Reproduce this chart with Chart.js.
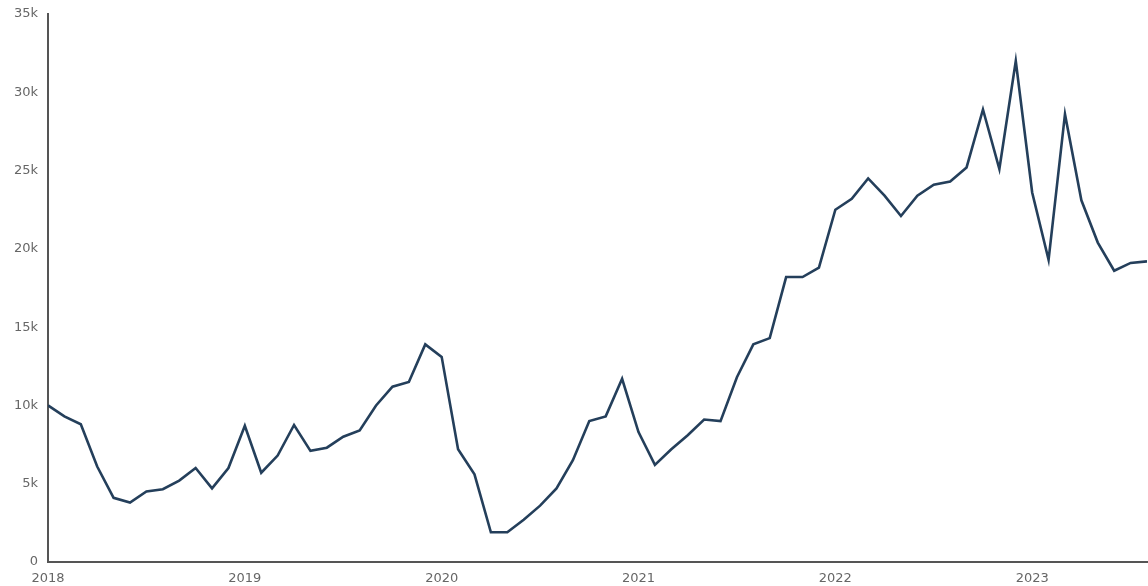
<!DOCTYPE html>
<html>
<head>
<meta charset="utf-8">
<script src="https://cdn.jsdelivr.net/npm/chart.js@4.4.1/dist/chart.umd.min.js"></script>
<style>
  html, body { margin: 0; padding: 0; background: #fff; }
  #wrap { width: 1148px; height: 586px; position: relative; }
</style>
</head>
<body>
<div id="wrap"><canvas id="c" width="1148" height="586"></canvas></div>
<script>
// Monthly values, Jan 2018 – Aug 2023
const startYear = 2018;
const values = [
  10000, 9300, 8800, 6100, 4100, 3800, 4500, 4650, 5200, 6000, 4700, 6000,
  8700, 5700, 6800, 8750, 7100, 7300, 8000, 8400, 10000, 11200, 11500, 13900,
  13100, 7200, 5600, 1900, 1900, 2700, 3600, 4700, 6500, 9000, 9300, 11700,
  8300, 6200, 7200, 8100, 9100, 9000, 11800, 13900, 14300, 18200, 18200, 18800,
  22500, 23200, 24500, 23400, 22100, 23400, 24100, 24300, 25200, 28900, 25100, 32000,
  23600, 19300, 28600, 23100, 20400, 18600, 19100, 19200
];
const yearTicks = ['2018', '2019', '2020', '2021', '2022', '2023'];
const yTickLabels = ['0', '5k', '10k', '15k', '20k', '25k', '30k', '35k'];

const points = values.map((v, i) => ({ x: i, y: v }));

new Chart(document.getElementById('c'), {
  type: 'line',
  data: {
    datasets: [{
      data: points,
      borderColor: '#243f5b',
      borderWidth: 2.6,
      pointRadius: 0,
      tension: 0,
      fill: false
    }]
  },
  options: {
    responsive: false,
    animation: false,
    events: [],
    layout: { padding: { top: 14, right: 0, left: 0, bottom: 0 } },
    plugins: { legend: { display: false }, tooltip: { enabled: false } },
    scales: {
      x: {
        type: 'linear',
        min: 0,
        max: values.length - 1,
        grid: { display: false },
        border: { display: true, color: '#555', width: 2 },
        ticks: {
          stepSize: 12,
          autoSkip: false,
          maxRotation: 0,
          padding: 1,
          color: '#666',
          font: { family: 'DejaVu Sans', size: 13 },
          callback: (v) => (v % 12 === 0 ? yearTicks[v / 12] : '')
        },
        afterFit: (s) => { s.height = 24; }
      },
      y: {
        min: 0,
        max: 35000,
        grid: { display: false },
        border: { display: true, color: '#555', width: 2 },
        ticks: {
          stepSize: 5000,
          padding: 2,
          color: '#666',
          font: { family: 'DejaVu Sans', size: 13 },
          callback: (v) => yTickLabels[v / 5000]
        },
        afterFit: (s) => { s.width = 48; }
      }
    }
  }
});
</script>
</body>
</html>
